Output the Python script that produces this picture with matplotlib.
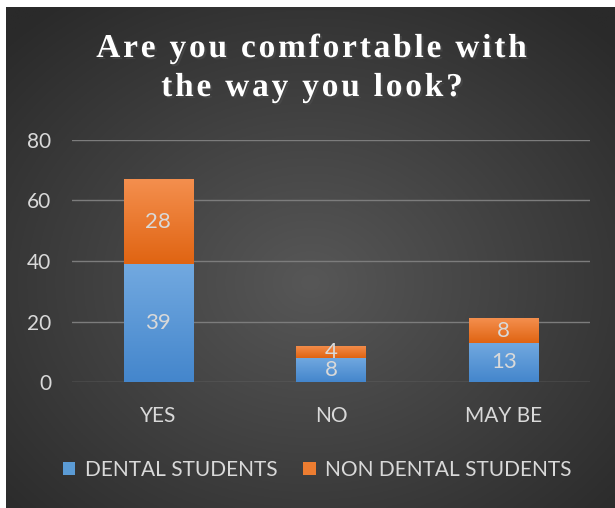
import numpy as np
import matplotlib.pyplot as plt
import matplotlib.patheffects as pe
from matplotlib import font_manager
from matplotlib.font_manager import FontProperties
from matplotlib.ft2font import FT2Font

categories = ["YES", "NO", "MAY BE"]
dental = [39, 8, 13]
non_dental = [28, 4, 8]
series_names = ["DENTAL STUDENTS", "NON DENTAL STUDENTS"]
yticks = [0, 20, 40, 60, 80]
title_lines = ["Are you comfortable with", "the way you look?"]

W, H = 615, 508
fig = plt.figure(figsize=(W / 100, H / 100), dpi=100, facecolor="white")

# dark radial background
bg = fig.add_axes([6 / W, 0, (W - 6) / W, (H - 7) / H])
bg.set_axis_off()
yy, xx = np.mgrid[0:1:300j, 0:1:300j]
r = np.sqrt(((xx - 0.5) / 0.7) ** 2 + ((yy - 0.45) / 0.7) ** 2)
r = np.clip(r, 0, 1)
c0 = np.array([0x57, 0x57, 0x57]) / 255
c1 = np.array([0x2a, 0x2a, 0x2a]) / 255
img = c0[None, None, :] * (1 - r[..., None]) + c1[None, None, :] * r[..., None]
bg.imshow(img, extent=[0, 1, 0, 1], aspect="auto", origin="lower")
bg.set_xlim(0, 1)
bg.set_ylim(0, 1)

ax = fig.add_axes([72 / W, 126 / H, (590 - 72) / W, (382 - 140) / H])
ax.patch.set_alpha(0)
x = np.arange(len(categories))
txt = "#d9d9d9"


def grad_bars(bars, top, bottom):
    for b in bars:
        x0, y0 = b.get_x(), b.get_y()
        w, h = b.get_width(), b.get_height()
        g = np.linspace(0, 1, 100)[:, None, None]
        col = np.array(bottom)[None, None, :] * (1 - g) + np.array(top)[None, None, :] * g
        im = ax.imshow(col, extent=[x0, x0 + w, y0, y0 + h], aspect="auto",
                       origin="lower", zorder=3)
        im.set_clip_path(b)


b1 = ax.bar(x, dental, width=0.4, color="#5b9bd5", zorder=2, label=series_names[0])
b2 = ax.bar(x, non_dental, width=0.4, bottom=dental, color="#ed7d31", zorder=2,
            label=series_names[1])
grad_bars(b1, (0x72 / 255, 0xa9 / 255, 0xe0 / 255), (0x44 / 255, 0x86 / 255, 0xcc / 255))
grad_bars(b2, (0xf4 / 255, 0x8f / 255, 0x4e / 255), (0xe0 / 255, 0x64 / 255, 0x12 / 255))

for i in range(len(categories)):
    ax.text(x[i], dental[i] / 2, str(dental[i]), ha="center", va="center",
            color=txt, fontsize=16, family="Lato", zorder=5)
    ax.text(x[i], dental[i] + non_dental[i] / 2, str(non_dental[i]), ha="center",
            va="center", color=txt, fontsize=16, family="Lato", zorder=5)

ax.set_xlim(-0.5, 2.5)
ax.set_ylim(0, 80)
ax.set_yticks(yticks)
ax.set_xticks(x)
ax.set_xticklabels(categories)
for s in ax.spines.values():
    s.set_visible(False)
ax.grid(axis="y", color="#7c7c7c", linewidth=1, zorder=0)
ax.tick_params(length=0, colors=txt, labelsize=15)
ax.tick_params(axis="x", pad=17)
ax.tick_params(axis="y", pad=15)
for lab in ax.get_xticklabels() + ax.get_yticklabels():
    lab.set_family("Lato")

# title with letter spacing, drawn char by char
tprop = FontProperties(family="Liberation Serif", weight="bold", size=24)
ft = FT2Font(font_manager.findfont(tprop))
ft.set_size(24, 100)
tracking = 2.8
shadow = [pe.withSimplePatchShadow(offset=(1.5, -1.5), alpha=0.6)]
for line, base, cx in zip(title_lines, [57, 96], [311.5, 312]):
    adv = [ft.load_char(ord(c)).linearHoriAdvance / 65536 for c in line]
    total = sum(adv) + tracking * (len(line) - 1)
    px = cx - total / 2
    for c, a in zip(line, adv):
        if c != " ":
            fig.text(px / W, 1 - base / H, c, ha="left", va="baseline",
                     color="white", fontproperties=tprop, path_effects=shadow)
        px += a + tracking

leg = fig.legend(handles=[b1, b2], labels=series_names, loc="center",
                 bbox_to_anchor=(0.516, 1 - 470 / H), ncol=2, frameon=False,
                 prop={"family": "Lato", "size": 15}, handlelength=0.58,
                 handleheight=0.58, handletextpad=0.45, columnspacing=1.25)
for t in leg.get_texts():
    t.set_color(txt)

fig.savefig("out.png", dpi=100, facecolor="white")
